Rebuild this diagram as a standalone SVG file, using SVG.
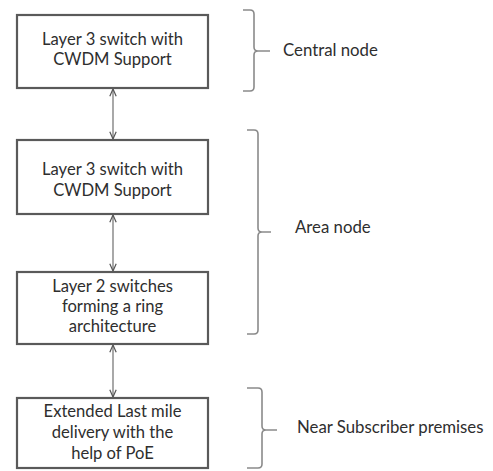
<svg xmlns="http://www.w3.org/2000/svg" width="493" height="471" viewBox="0 0 493 471">
<defs>
<style>
.box{fill:#fff;stroke:#5a5a5a;stroke-width:2.2}
.t{font-family:Lato,"Liberation Sans",sans-serif;font-size:16.6px;fill:#2e2e2e;text-anchor:middle}
.l{font-family:Lato,"Liberation Sans",sans-serif;font-size:16.8px;fill:#2e2e2e}
.c{stroke:#7a7a7a;stroke-width:1.3;fill:none}
.br{stroke:#8a8a8a;stroke-width:1.6;fill:none}
</style>
<marker id="ah" viewBox="0 0 10 10" refX="10" refY="5" markerWidth="8" markerHeight="8" orient="auto-start-reverse" markerUnits="userSpaceOnUse">
<path d="M1,1 L10,5 L1,9" fill="none" stroke="#555" stroke-width="1.5"/>
</marker>
</defs>
<rect width="493" height="471" fill="#fff"/>
<g id="connectors">
<line class="c" x1="113" y1="89" x2="113" y2="139" marker-start="url(#ah)" marker-end="url(#ah)"/>
<line class="c" x1="113" y1="215" x2="113" y2="271" marker-start="url(#ah)" marker-end="url(#ah)"/>
<line class="c" x1="113" y1="345" x2="113" y2="397" marker-start="url(#ah)" marker-end="url(#ah)"/>
</g>
<g id="node1">
<rect class="box" x="17" y="15" width="191" height="73"/>
<text class="t" x="112.5" y="45">Layer 3 switch with</text>
<text class="t" x="112.5" y="65">CWDM Support</text>
</g>
<g id="node2">
<rect class="box" x="17" y="140" width="191" height="74"/>
<text class="t" x="112.5" y="175">Layer 3 switch with</text>
<text class="t" x="112.5" y="196">CWDM Support</text>
</g>
<g id="node3">
<rect class="box" x="17" y="272" width="191" height="72"/>
<text class="t" x="112.5" y="292">Layer 2 switches</text>
<text class="t" x="112.5" y="312">forming a ring</text>
<text class="t" x="112.5" y="332">architecture</text>
</g>
<g id="node4">
<rect class="box" x="17" y="398" width="191" height="70"/>
<text class="t" x="112.5" y="417">Extended Last mile</text>
<text class="t" x="112.5" y="438">delivery with the</text>
<text class="t" x="112.5" y="459">help of PoE</text>
</g>
<g id="brace-central">
<path class="br" d="M243,10 L250,10 Q254,10 254,14 L254,47 Q254,51 258,51 L270,51 M258,51 Q254,51 254,55 L254,87 Q254,91 250,91 L243,91"/>
<text class="l" x="283" y="56">Central node</text>
</g>
<g id="brace-area">
<path class="br" d="M247,130 L254,130 Q258,130 258,134 L258,228 Q258,232 262,232 L271,232 M262,232 Q258,232 258,236 L258,330 Q258,334 254,334 L247,334"/>
<text class="l" x="295" y="233">Area node</text>
</g>
<g id="brace-near">
<path class="br" d="M247,388 L258,388 Q262,388 262,392 L262,426 Q262,430 266,430 L277,430 M266,430 Q262,430 262,434 L262,464 Q262,468 258,468 L247,468"/>
<text class="l" x="297" y="433">Near Subscriber premises</text>
</g>
</svg>
